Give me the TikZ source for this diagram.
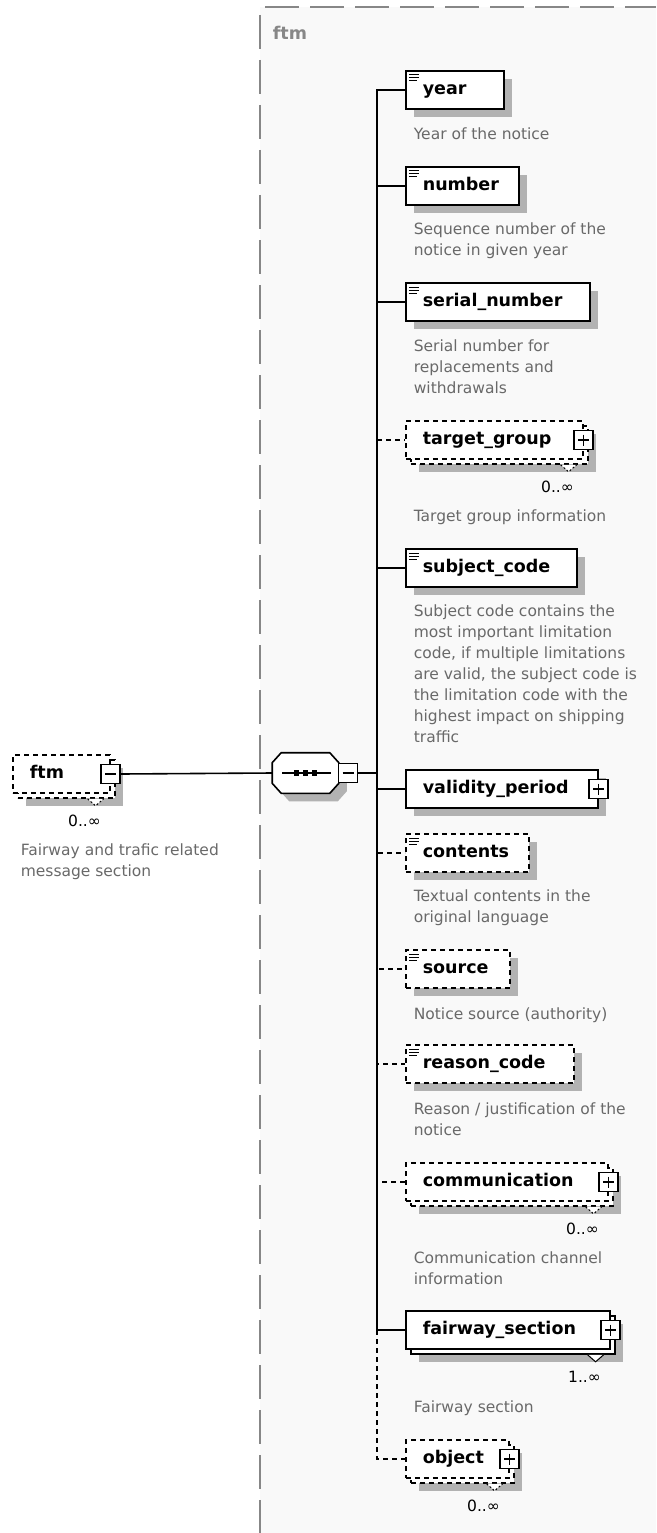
\documentclass[tikz,border=0pt]{standalone}
\usepackage{fontspec}
\setmainfont{DejaVu Sans}
\usetikzlibrary{shadows}

\definecolor{framegray}{RGB}{135,135,135}
\definecolor{bggray}{RGB}{249,249,249}
\definecolor{descgray}{RGB}{105,105,105}
\definecolor{shadowgray}{RGB}{178,178,178}

\newcommand{\lblfont}{\fontsize{17.5}{20}\selectfont\bfseries}
\newcommand{\dscfont}{\fontsize{15.5}{21}\selectfont}

\begin{document}
\begin{tikzpicture}[x=1pt,y=-1pt,line width=1.6pt,
	every node/.style={inner sep=0pt},
	elem/.style={draw,fill=white,anchor=west,minimum height=38pt,inner xsep=17pt,
		text width=#1,align=flush left,text height=13pt,text depth=4pt,font=\lblfont},
	opt/.style={dash pattern=on 5pt off 4pt},
	one/.style={drop shadow={shadow xshift=8pt,shadow yshift=-8pt,fill=shadowgray,opacity=1}},
	multi/.style={drop shadow={shadow xshift=13pt,shadow yshift=-13pt,fill=shadowgray,opacity=1},
		copy shadow={shadow xshift=5pt,shadow yshift=-5pt}},
	simple/.style={path picture={
		\draw[line width=1pt,solid] ([shift={(3pt,-4pt)}]path picture bounding box.north west) -- ++(10pt,0pt)
			([shift={(3pt,-7pt)}]path picture bounding box.north west) -- ++(10pt,0pt)
			([shift={(3pt,-10pt)}]path picture bounding box.north west) -- ++(8pt,0pt);}},
	pm/.style={draw,solid,fill=white,minimum size=19pt,line width=1.3pt},
	plus/.style={pm,path picture={
		\draw[line width=1.3pt] ([xshift=4pt]path picture bounding box.west) -- ([xshift=-4pt]path picture bounding box.east)
			([yshift=-4pt]path picture bounding box.north) -- ([yshift=4pt]path picture bounding box.south);}},
	minus/.style={pm,path picture={
		\draw[line width=1.3pt] ([xshift=4pt]path picture bounding box.west) -- ([xshift=-4pt]path picture bounding box.east);}},
	notch/.style={line width=1pt,fill=white},
	desc/.style={anchor=north west,align=left,font=\dscfont,text=descgray},
	mult/.style={anchor=east,font=\dscfont}]
	\useasboundingbox (0,0) rectangle (656,1533);

	% frame of the ftm type
	\fill[bggray] (260,7) rectangle (656,1533);
	\draw[framegray,line width=2pt,dash pattern=on 34pt off 11pt] (260,15) -- (260,1533);
	\draw[framegray,line width=2pt,dash pattern=on 34pt off 11pt] (265,7) -- (656,7);
	\node[anchor=west,font=\lblfont,text=framegray] (head) at (272,33) {ftm};

	% root element
	\node[elem=63pt,opt,multi] (ftm) at (12,774) {ftm};
	\node[minus] (ftmm) at (ftm.east) {};
	\draw[notch,dash pattern=on 2pt off 2pt] ([shift={(-23,5)}]ftm.south east) -- ++(8,7) -- ++(8,-7);
	\node[mult] (ftmn) at ([shift={(-9,27)}]ftm.south east) {0..∞};
	\node[desc] (ftmd) at (20,843) {Fairway and trafic related\\message section};

	% sequence
	\node[minimum width=65pt,minimum height=39pt] (seq) at (305.5,773) {};
	\draw[fill=white,one] ([xshift=9pt]seq.north west) -- ([xshift=-9pt]seq.north east)
		-- ([yshift=-10pt]seq.north east) -- ([yshift=10pt]seq.south east)
		-- ([xshift=-9pt]seq.south east) -- ([xshift=9pt]seq.south west)
		-- ([yshift=10pt]seq.south west) -- ([yshift=-10pt]seq.north west) -- cycle;
	\draw ([xshift=10pt]seq.west) -- ([xshift=-8pt]seq.east);
	\foreach \d in {-9,0,9}
		\fill ([xshift=\d pt]seq.center) +(-2.7pt,-2.7pt) rectangle +(2.7pt,2.7pt);
	\node[minus] (seqm) at (348,773) {};
	\coordinate (bb) at (377,773);

	% children
	\node[elem=64pt,one,simple] (year) at (405,90) {year};
	\node[desc] (yeard) at (413,127) {Year of the notice};

	\node[elem=79pt,one,simple] (num) at (405,186) {number};
	\node[desc] (numd) at (413,222) {Sequence number of the\\notice in given year};

	\node[elem=150pt,one,simple] (serial) at (405,302) {serial\_number};
	\node[desc] (seriald) at (413,339) {Serial number for\\replacements and\\withdrawals};

	\node[elem=143pt,opt,multi] (tg) at (405,440) {target\_group};
	\node[plus] (tgp) at (tg.east) {};
	\draw[notch,dash pattern=on 2pt off 2pt] ([shift={(-23,5)}]tg.south east) -- ++(8,7) -- ++(8,-7);
	\node[mult] (tgn) at ([shift={(-9,27)}]tg.south east) {0..∞};
	\node[desc] (tgd) at (413,509) {Target group information};

	\node[elem=137pt,one,simple] (subj) at (405,568) {subject\_code};
	\node[desc] (subjd) at (413,604) {Subject code contains the\\most important limitation\\code, if multiple limitations\\are valid, the subject code is\\the limitation code with the\\highest impact on shipping\\traffic};

	\node[elem=158pt,one] (valid) at (405,789) {validity\_period};
	\node[plus] (validp) at (valid.east) {};

	\node[elem=89pt,opt,one,simple] (cont) at (405,853) {contents};
	\node[desc] (contd) at (413,889) {Textual contents in the\\original language};

	\node[elem=70pt,opt,one,simple] (src) at (405,969) {source};
	\node[desc] (srcd) at (413,1007) {Notice source (authority)};

	\node[elem=134pt,opt,one,simple] (reason) at (405,1064) {reason\_code};
	\node[desc] (reasond) at (413,1102) {Reason / justification of the\\notice};

	\node[elem=168pt,opt,multi] (comm) at (405,1182) {communication};
	\node[plus] (commp) at (comm.east) {};
	\draw[notch,dash pattern=on 2pt off 2pt] ([shift={(-23,5)}]comm.south east) -- ++(8,7) -- ++(8,-7);
	\node[mult] (commn) at ([shift={(-9,27)}]comm.south east) {0..∞};
	\node[desc] (commd) at (413,1251) {Communication channel\\information};

	\node[elem=170pt,multi] (fs) at (405,1330) {fairway\_section};
	\node[plus] (fsp) at (fs.east) {};
	\draw[notch] ([shift={(-23,5)}]fs.south east) -- ++(8,7) -- ++(8,-7);
	\node[mult] (fsn) at ([shift={(-9,27)}]fs.south east) {1..∞};
	\node[desc] (fsd) at (413,1400) {Fairway section};

	\node[elem=69pt,opt,multi] (obj) at (405,1459) {object};
	\node[plus] (objp) at (obj.east) {};
	\draw[notch,dash pattern=on 2pt off 2pt] ([shift={(-23,5)}]obj.south east) -- ++(8,7) -- ++(8,-7);
	\node[mult] (objn) at ([shift={(-9,27)}]obj.south east) {0..∞};

	% connectors
	\draw (ftmm.east) -- (seq.west);
	\draw (seqm.east) -- (bb);
	\draw (bb) |- (year.west);
	\draw (bb) |- (num.west);
	\draw (bb) |- (serial.west);
	\draw (bb) |- (subj.west);
	\draw (bb) |- (valid.west);
	\draw (bb) |- (fs.west);
	\draw[opt] (bb) |- (tg.west);
	\draw[opt] (bb) |- (cont.west);
	\draw[opt] (bb) |- (src.west);
	\draw[opt] (bb) |- (reason.west);
	\draw[opt] (bb) |- (comm.west);
	\draw[opt] (fs.west -| bb) |- (obj.west);
\end{tikzpicture}
\end{document}
